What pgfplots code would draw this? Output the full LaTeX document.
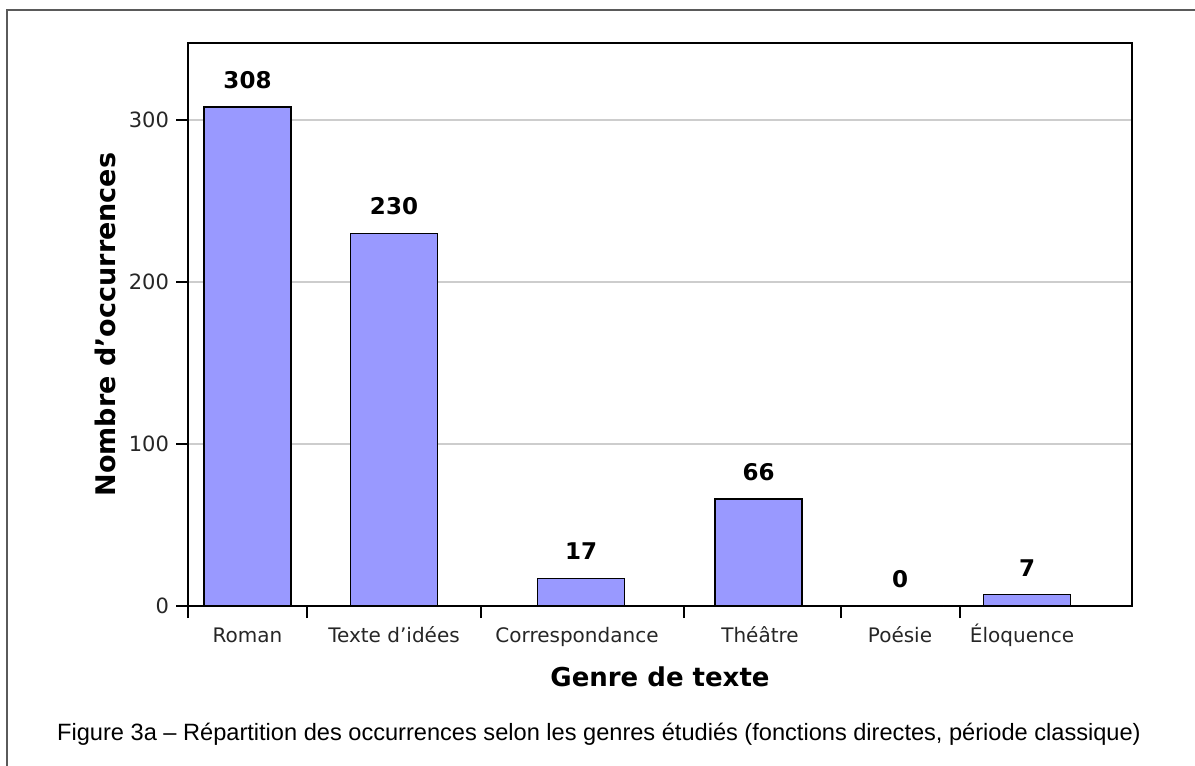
\documentclass[border=0pt]{standalone}
\usepackage{pgfplots}
\pgfplotsset{compat=1.18}
\usepackage{fontspec}
\setmainfont{DejaVu Sans}
\newfontfamily\capfont{Liberation Sans}
\definecolor{barfill}{RGB}{153,153,255}
\definecolor{gridc}{RGB}{205,205,205}
\definecolor{framec}{RGB}{90,90,90}
\begin{document}
\begin{tikzpicture}
\useasboundingbox (0pt,0pt) rectangle (597.5pt,-383pt);
\draw[framec, line width=0.9pt] (3.5pt,-390pt) -- (3.5pt,-5pt) -- (600pt,-5pt);
\begin{axis}[
  at={(94pt,-21.5pt)}, anchor=north west,
  scale only axis, width=472pt, height=281.5pt,
  xmin=188, xmax=1132, ymin=0, ymax=347.5,
  axis line style={black, line width=0.8pt},
  tick align=outside, tick pos=left,
  major tick length=6pt,
  tick style={black, line width=0.7pt},
  xtick={188,307,481,684,841,960},
  xticklabels={,,,,,},
  extra x ticks={247.5,394,577,760,900,1022},
  extra x tick labels={Roman,Texte d'idées,Correspondance,Théâtre,Poésie,Éloquence},
  extra x tick style={major tick length=0pt, grid=none,
     xticklabel style={text height=2.2ex, text depth=0.3ex, yshift=-2.5pt, font=\fontsize{10}{11}\selectfont}},
  ytick={0,100,200,300},
  ymajorgrids, grid style={gridc, line width=0.6pt},
  ticklabel style={font=\fontsize{10.5}{11}\selectfont, text=black!85},
  /pgf/number format/assume math mode=true,
  ybar, bar width=87,
  nodes near coords,
  every node near coord/.append style={font=\bfseries\fontsize{11.5}{12}\selectfont, anchor=center, yshift=13.5pt},
  xlabel={\textbf{Genre de texte}},
  ylabel={\textbf{Nombre d'occurrences}},
  xlabel style={font=\bfseries\fontsize{13}{14}\selectfont, at={(ticklabel cs:0.5)}, anchor=center, yshift=-6.5pt, xshift=0pt},
  ylabel style={font=\bfseries\fontsize{13.5}{14}\selectfont, at={(ticklabel cs:0.5)}, anchor=center, yshift=8.5pt},
]
\addplot[fill=barfill, draw=black, line width=0.8pt] coordinates {
  (247.5,308) (394,230) (581,17) (758.5,66) (900,0) (1027,7)
};
\end{axis}
\node[font=\capfont\fontsize{11.8}{13}\selectfont, anchor=center] at (299.5pt,-367pt) {Figure 3a – Répartition des occurrences selon les genres étudiés (fonctions directes, période classique)};
\end{tikzpicture}
\end{document}
